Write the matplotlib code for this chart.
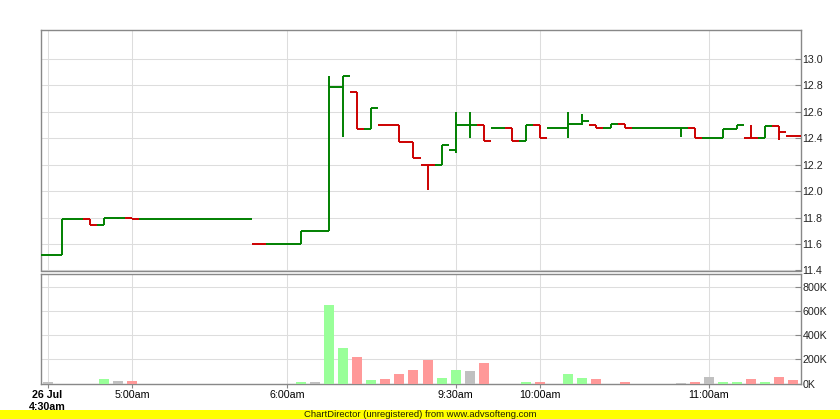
import matplotlib
matplotlib.use("Agg")
import matplotlib.pyplot as plt
from matplotlib.collections import LineCollection
from matplotlib.patches import Rectangle

plt.rcParams['font.family'] = ['Liberation Sans', 'DejaVu Sans']

# 5-minute bars, indexed (non-trading periods are skipped)
opens = [11.52, 11.52, 11.79, 11.79, 11.745, 11.80, 11.80, 11.79, 11.79, 11.79,
         11.79, 11.79, 11.79, 11.79, 11.79, 11.60, 11.60, 11.60, 11.60, 11.70,
         11.70, 12.79, 12.75, 12.47, 12.50, 12.50, 12.37, 12.20, 12.20, 12.31,
         12.50, 12.50, 12.48, 12.48, 12.38, 12.50, 12.48, 12.48, 12.51, 12.50,
         12.48, 12.51, 12.48, 12.48, 12.48, 12.48, 12.48, 12.40, 12.40, 12.47,
         12.40, 12.40, 12.49, 12.42]
highs = [11.52, 11.79, 11.79, 11.79, 11.80, 11.80, 11.80, 11.79, 11.79, 11.79,
         11.79, 11.79, 11.79, 11.79, 11.79, 11.60, 11.60, 11.60, 11.70, 11.70,
         12.87, 12.87, 12.75, 12.63, 12.50, 12.50, 12.37, 12.20, 12.35, 12.60,
         12.60, 12.50, 12.48, 12.48, 12.50, 12.50, 12.48, 12.60, 12.58, 12.50,
         12.51, 12.51, 12.48, 12.48, 12.48, 12.48, 12.48, 12.40, 12.47, 12.50,
         12.50, 12.49, 12.49, 12.42]
lows = [11.52, 11.52, 11.79, 11.745, 11.745, 11.79, 11.79, 11.79, 11.79, 11.79,
        11.79, 11.79, 11.79, 11.79, 11.79, 11.60, 11.60, 11.60, 11.60, 11.70,
        11.70, 12.41, 12.47, 12.47, 12.50, 12.37, 12.25, 12.01, 12.20, 12.29,
        12.40, 12.38, 12.48, 12.38, 12.38, 12.40, 12.48, 12.40, 12.50, 12.48,
        12.48, 12.48, 12.48, 12.48, 12.48, 12.41, 12.40, 12.40, 12.40, 12.47,
        12.40, 12.40, 12.39, 12.42]
closes = [11.52, 11.79, 11.79, 11.745, 11.80, 11.80, 11.79, 11.79, 11.79, 11.79,
          11.79, 11.79, 11.79, 11.79, 11.79, 11.60, 11.60, 11.60, 11.70, 11.70,
          12.79, 12.87, 12.47, 12.63, 12.50, 12.37, 12.25, 12.20, 12.35, 12.50,
          12.50, 12.38, 12.48, 12.38, 12.50, 12.40, 12.48, 12.51, 12.53, 12.48,
          12.51, 12.48, 12.48, 12.48, 12.48, 12.48, 12.40, 12.40, 12.47, 12.50,
          12.40, 12.49, 12.45, 12.42]
volumes = [10000, 0, 0, 0, 36000, 20000, 20000, 0, 0, 0,
           0, 0, 0, 0, 0, 0, 0, 0, 10000, 10000,
           652000, 294000, 219000, 28000, 36000, 78000, 111000, 194000, 44000, 111000,
           103000, 169000, 0, 0, 10000, 10000, 0, 78000, 44000, 36000,
           0, 10000, 0, 0, 0, 8000, 10000, 52000, 10000, 10000,
           36000, 10000, 52000, 28000]

tick_pos = [0, 6, 17, 29, 35, 47]
tick_labels = ["26 Jul\n4:30am", "5:00am", "6:00am", "9:30am", "10:00am", "11:00am"]

price_ticks = [11.4, 11.6, 11.8, 12.0, 12.2, 12.4, 12.6, 12.8, 13.0]
vol_ticks = [0, 200000, 400000, 600000, 800000]
vol_tick_labels = ["0K", "200K", "400K", "600K", "800K"]

UP, DOWN = "#008000", "#cc0000"
VUP, VDOWN, VFLAT = "#99ff99", "#ff9999", "#c0c0c0"
GRID, BORDER = "#dddddd", "#888888"

W, H = 840, 419
fig = plt.figure(figsize=(W / 100, H / 100), dpi=100)


def px_axes(x0, y0, x1, y1):
    return fig.add_axes([x0 / W, (H - y1) / H, (x1 - x0) / W, (y1 - y0) / H])


ax = px_axes(40.5, 30.5, 800.5, 270.5)
axv = px_axes(40.5, 273.5, 800.5, 383.5)

# colours: compare close with previous close
pcol, vcol = [], []
for i, c in enumerate(closes):
    prev = closes[i - 1] if i > 0 else c
    pcol.append(UP if c >= prev else DOWN)
    vcol.append(VUP if c > prev else (VDOWN if c < prev else VFLAT))

segs, cols = [], []
for i in range(len(closes)):
    segs.append([(i - 0.5, opens[i]), (i, opens[i])])
    segs.append([(i, closes[i]), (i + 0.5, closes[i])])
    cols += [pcol[i], pcol[i]]
    if highs[i] > lows[i]:
        segs.append([(i, lows[i]), (i, highs[i])])
        cols.append(pcol[i])
ax.add_collection(LineCollection(segs, colors=cols, linewidths=1.4, capstyle='butt', zorder=3))

axv.bar(range(len(volumes)), volumes, width=0.71, color=vcol, zorder=3)

for a in (ax, axv):
    a.set_xlim(-0.5, len(closes) - 0.5)
    a.set_xticks(tick_pos)
    a.grid(True, color=GRID, linewidth=0.75)
    a.set_axisbelow(True)
    for s in a.spines.values():
        s.set_color(BORDER)
        s.set_linewidth(1.0)
    a.yaxis.tick_right()
    a.tick_params(axis='y', direction='in', length=4, color=BORDER, pad=1.5,
                  labelsize=7.7, labelcolor="#222222")

ax.set_ylim(11.4, 13.215)
ax.set_yticks(price_ticks)
ax.set_yticklabels([f"{v:.1f}" for v in price_ticks])
ax.tick_params(axis='x', length=0, labelbottom=False)

axv.set_ylim(0, 915000)
axv.set_yticks(vol_ticks)
axv.set_yticklabels(vol_tick_labels)
axv.set_xticklabels(tick_labels, fontsize=7.7, linespacing=1.3)
axv.tick_params(axis='x', direction='out', length=3, color=BORDER, pad=1.5)
lbls = axv.get_xticklabels()
lbls[0].set_fontweight('bold')
lbls[0].set_verticalalignment('top')

fig.patches.append(Rectangle((0, 0), 1, 9.5 / H, transform=fig.transFigure,
                             facecolor="#ffff00", edgecolor='none', zorder=0))
fig.text(0.5, 4.8 / H, "ChartDirector (unregistered) from www.advsofteng.com",
         ha='center', va='center', fontsize=6.8, color="#222200")

fig.savefig("out.png", dpi=100, facecolor="white")
